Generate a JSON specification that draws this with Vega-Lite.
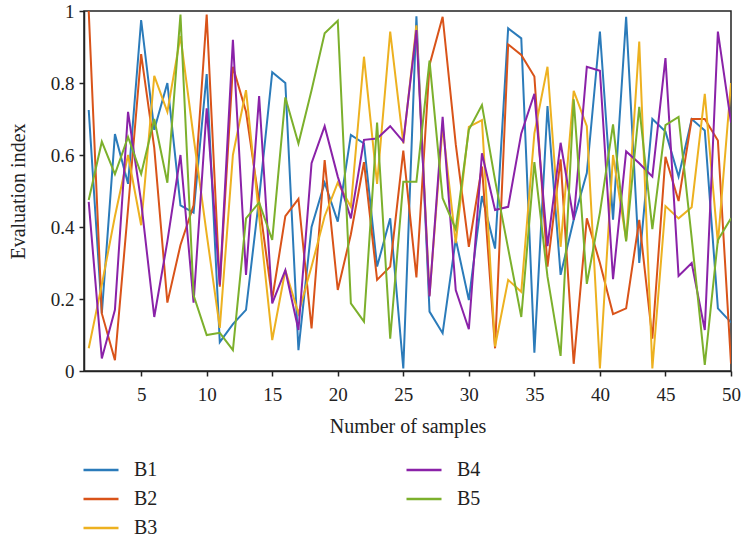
{
"$schema": "https://vega.github.io/schema/vega-lite/v6.json",
"width": 647, "height": 360,
"autosize": "none",
"padding": {"left": 84, "top": 11, "right": 10, "bottom": 168},
"background": "white",
"data": {"values": [
{"s":"B1","n":1,"v":0.725},{"s":"B1","n":2,"v":0.16},{"s":"B1","n":3,"v":0.658},{"s":"B1","n":4,"v":0.52},{"s":"B1","n":5,"v":0.975},{"s":"B1","n":6,"v":0.67},{"s":"B1","n":7,"v":0.80},{"s":"B1","n":8,"v":0.46},{"s":"B1","n":9,"v":0.44},{"s":"B1","n":10,"v":0.825},
{"s":"B1","n":11,"v":0.08},{"s":"B1","n":12,"v":0.13},{"s":"B1","n":13,"v":0.17},{"s":"B1","n":14,"v":0.48},{"s":"B1","n":15,"v":0.83},{"s":"B1","n":16,"v":0.80},{"s":"B1","n":17,"v":0.058},{"s":"B1","n":18,"v":0.40},{"s":"B1","n":19,"v":0.523},{"s":"B1","n":20,"v":0.415},
{"s":"B1","n":21,"v":0.656},{"s":"B1","n":22,"v":0.632},{"s":"B1","n":23,"v":0.29},{"s":"B1","n":24,"v":0.424},{"s":"B1","n":25,"v":0.007},{"s":"B1","n":26,"v":0.985},{"s":"B1","n":27,"v":0.165},{"s":"B1","n":28,"v":0.105},{"s":"B1","n":29,"v":0.366},{"s":"B1","n":30,"v":0.197},
{"s":"B1","n":31,"v":0.486},{"s":"B1","n":32,"v":0.34},{"s":"B1","n":33,"v":0.952},{"s":"B1","n":34,"v":0.924},{"s":"B1","n":35,"v":0.051},{"s":"B1","n":36,"v":0.736},{"s":"B1","n":37,"v":0.267},{"s":"B1","n":38,"v":0.42},{"s":"B1","n":39,"v":0.55},{"s":"B1","n":40,"v":0.943},
{"s":"B1","n":41,"v":0.42},{"s":"B1","n":42,"v":0.984},{"s":"B1","n":43,"v":0.30},{"s":"B1","n":44,"v":0.70},{"s":"B1","n":45,"v":0.665},{"s":"B1","n":46,"v":0.54},{"s":"B1","n":47,"v":0.70},{"s":"B1","n":48,"v":0.668},{"s":"B1","n":49,"v":0.174},{"s":"B1","n":50,"v":0.135},
{"s":"B2","n":1,"v":1.0},{"s":"B2","n":2,"v":0.16},{"s":"B2","n":3,"v":0.03},{"s":"B2","n":4,"v":0.45},{"s":"B2","n":5,"v":0.88},{"s":"B2","n":6,"v":0.62},{"s":"B2","n":7,"v":0.19},{"s":"B2","n":8,"v":0.35},{"s":"B2","n":9,"v":0.46},{"s":"B2","n":10,"v":0.99},
{"s":"B2","n":11,"v":0.234},{"s":"B2","n":12,"v":0.845},{"s":"B2","n":13,"v":0.72},{"s":"B2","n":14,"v":0.47},{"s":"B2","n":15,"v":0.20},{"s":"B2","n":16,"v":0.43},{"s":"B2","n":17,"v":0.478},{"s":"B2","n":18,"v":0.118},{"s":"B2","n":19,"v":0.586},{"s":"B2","n":20,"v":0.225},
{"s":"B2","n":21,"v":0.38},{"s":"B2","n":22,"v":0.58},{"s":"B2","n":23,"v":0.253},{"s":"B2","n":24,"v":0.29},{"s":"B2","n":25,"v":0.612},{"s":"B2","n":26,"v":0.26},{"s":"B2","n":27,"v":0.85},{"s":"B2","n":28,"v":0.984},{"s":"B2","n":29,"v":0.63},{"s":"B2","n":30,"v":0.345},
{"s":"B2","n":31,"v":0.568},{"s":"B2","n":32,"v":0.063},{"s":"B2","n":33,"v":0.907},{"s":"B2","n":34,"v":0.878},{"s":"B2","n":35,"v":0.818},{"s":"B2","n":36,"v":0.29},{"s":"B2","n":37,"v":0.588},{"s":"B2","n":38,"v":0.02},{"s":"B2","n":39,"v":0.424},{"s":"B2","n":40,"v":0.30},
{"s":"B2","n":41,"v":0.158},{"s":"B2","n":42,"v":0.174},{"s":"B2","n":43,"v":0.42},{"s":"B2","n":44,"v":0.09},{"s":"B2","n":45,"v":0.595},{"s":"B2","n":46,"v":0.472},{"s":"B2","n":47,"v":0.70},{"s":"B2","n":48,"v":0.70},{"s":"B2","n":49,"v":0.64},{"s":"B2","n":50,"v":0.02},
{"s":"B3","n":1,"v":0.063},{"s":"B3","n":2,"v":0.24},{"s":"B3","n":3,"v":0.43},{"s":"B3","n":4,"v":0.6},{"s":"B3","n":5,"v":0.405},{"s":"B3","n":6,"v":0.82},{"s":"B3","n":7,"v":0.72},{"s":"B3","n":8,"v":0.93},{"s":"B3","n":9,"v":0.65},{"s":"B3","n":10,"v":0.38},
{"s":"B3","n":11,"v":0.12},{"s":"B3","n":12,"v":0.60},{"s":"B3","n":13,"v":0.78},{"s":"B3","n":14,"v":0.43},{"s":"B3","n":15,"v":0.086},{"s":"B3","n":16,"v":0.28},{"s":"B3","n":17,"v":0.16},{"s":"B3","n":18,"v":0.29},{"s":"B3","n":19,"v":0.43},{"s":"B3","n":20,"v":0.523},
{"s":"B3","n":21,"v":0.456},{"s":"B3","n":22,"v":0.873},{"s":"B3","n":23,"v":0.52},{"s":"B3","n":24,"v":0.943},{"s":"B3","n":25,"v":0.632},{"s":"B3","n":26,"v":0.96},{"s":"B3","n":27,"v":0.21},{"s":"B3","n":28,"v":0.68},{"s":"B3","n":29,"v":0.355},{"s":"B3","n":30,"v":0.678},
{"s":"B3","n":31,"v":0.697},{"s":"B3","n":32,"v":0.068},{"s":"B3","n":33,"v":0.253},{"s":"B3","n":34,"v":0.22},{"s":"B3","n":35,"v":0.66},{"s":"B3","n":36,"v":0.845},{"s":"B3","n":37,"v":0.345},{"s":"B3","n":38,"v":0.778},{"s":"B3","n":39,"v":0.68},{"s":"B3","n":40,"v":0.007},
{"s":"B3","n":41,"v":0.60},{"s":"B3","n":42,"v":0.364},{"s":"B3","n":43,"v":0.915},{"s":"B3","n":44,"v":0.007},{"s":"B3","n":45,"v":0.458},{"s":"B3","n":46,"v":0.424},{"s":"B3","n":47,"v":0.455},{"s":"B3","n":48,"v":0.77},{"s":"B3","n":49,"v":0.355},{"s":"B3","n":50,"v":0.8},
{"s":"B4","n":1,"v":0.47},{"s":"B4","n":2,"v":0.035},{"s":"B4","n":3,"v":0.17},{"s":"B4","n":4,"v":0.72},{"s":"B4","n":5,"v":0.47},{"s":"B4","n":6,"v":0.15},{"s":"B4","n":7,"v":0.36},{"s":"B4","n":8,"v":0.60},{"s":"B4","n":9,"v":0.19},{"s":"B4","n":10,"v":0.73},
{"s":"B4","n":11,"v":0.24},{"s":"B4","n":12,"v":0.92},{"s":"B4","n":13,"v":0.267},{"s":"B4","n":14,"v":0.764},{"s":"B4","n":15,"v":0.188},{"s":"B4","n":16,"v":0.28},{"s":"B4","n":17,"v":0.114},{"s":"B4","n":18,"v":0.577},{"s":"B4","n":19,"v":0.68},{"s":"B4","n":20,"v":0.54},
{"s":"B4","n":21,"v":0.424},{"s":"B4","n":22,"v":0.642},{"s":"B4","n":23,"v":0.646},{"s":"B4","n":24,"v":0.68},{"s":"B4","n":25,"v":0.637},{"s":"B4","n":26,"v":0.947},{"s":"B4","n":27,"v":0.207},{"s":"B4","n":28,"v":0.706},{"s":"B4","n":29,"v":0.225},{"s":"B4","n":30,"v":0.116},
{"s":"B4","n":31,"v":0.605},{"s":"B4","n":32,"v":0.447},{"s":"B4","n":33,"v":0.456},{"s":"B4","n":34,"v":0.66},{"s":"B4","n":35,"v":0.77},{"s":"B4","n":36,"v":0.347},{"s":"B4","n":37,"v":0.634},{"s":"B4","n":38,"v":0.42},{"s":"B4","n":39,"v":0.845},{"s":"B4","n":40,"v":0.834},
{"s":"B4","n":41,"v":0.255},{"s":"B4","n":42,"v":0.61},{"s":"B4","n":43,"v":0.577},{"s":"B4","n":44,"v":0.54},{"s":"B4","n":45,"v":0.869},{"s":"B4","n":46,"v":0.264},{"s":"B4","n":47,"v":0.30},{"s":"B4","n":48,"v":0.114},{"s":"B4","n":49,"v":0.943},{"s":"B4","n":50,"v":0.69},
{"s":"B5","n":1,"v":0.475},{"s":"B5","n":2,"v":0.637},{"s":"B5","n":3,"v":0.547},{"s":"B5","n":4,"v":0.65},{"s":"B5","n":5,"v":0.547},{"s":"B5","n":6,"v":0.70},{"s":"B5","n":7,"v":0.523},{"s":"B5","n":8,"v":0.99},{"s":"B5","n":9,"v":0.21},{"s":"B5","n":10,"v":0.10},
{"s":"B5","n":11,"v":0.106},{"s":"B5","n":12,"v":0.058},{"s":"B5","n":13,"v":0.424},{"s":"B5","n":14,"v":0.468},{"s":"B5","n":15,"v":0.364},{"s":"B5","n":16,"v":0.76},{"s":"B5","n":17,"v":0.632},{"s":"B5","n":18,"v":0.78},{"s":"B5","n":19,"v":0.938},{"s":"B5","n":20,"v":0.973},
{"s":"B5","n":21,"v":0.188},{"s":"B5","n":22,"v":0.137},{"s":"B5","n":23,"v":0.69},{"s":"B5","n":24,"v":0.09},{"s":"B5","n":25,"v":0.526},{"s":"B5","n":26,"v":0.526},{"s":"B5","n":27,"v":0.862},{"s":"B5","n":28,"v":0.48},{"s":"B5","n":29,"v":0.394},{"s":"B5","n":30,"v":0.67},
{"s":"B5","n":31,"v":0.739},{"s":"B5","n":32,"v":0.53},{"s":"B5","n":33,"v":0.34},{"s":"B5","n":34,"v":0.15},{"s":"B5","n":35,"v":0.58},{"s":"B5","n":36,"v":0.262},{"s":"B5","n":37,"v":0.042},{"s":"B5","n":38,"v":0.755},{"s":"B5","n":39,"v":0.242},{"s":"B5","n":40,"v":0.44},
{"s":"B5","n":41,"v":0.685},{"s":"B5","n":42,"v":0.36},{"s":"B5","n":43,"v":0.734},{"s":"B5","n":44,"v":0.394},{"s":"B5","n":45,"v":0.683},{"s":"B5","n":46,"v":0.706},{"s":"B5","n":47,"v":0.37},{"s":"B5","n":48,"v":0.017},{"s":"B5","n":49,"v":0.364},{"s":"B5","n":50,"v":0.424}
]},
"mark": {"type": "line", "strokeWidth": 2, "clip": true},
"encoding": {
  "x": {"field": "n", "type": "quantitative",
        "scale": {"domain": [0.64, 50], "nice": false, "zero": false},
        "axis": {"values": [5,10,15,20,25,30,35,40,45,50], "title": "Number of samples",
                 "labelPadding": 9, "titleY": 61, "titleBaseline": "alphabetic", "labelFlush": false}},
  "y": {"field": "v", "type": "quantitative",
        "scale": {"domain": [0, 1], "nice": false},
        "axis": {"values": [0,0.2,0.4,0.6,0.8,1], "format": ".1~f", "title": "Evaluation index",
                 "labelPadding": 5, "titleX": -60, "titleY": 180, "titleBaseline": "alphabetic", "titleAngle": -90, "labelFlush": false}},
  "color": {"field": "s", "type": "nominal",
            "scale": {"domain": ["B1","B2","B3","B4","B5"], "range": ["#2b7bba","#d95319","#edb120","#8a22a8","#7cb02c"]},
            "legend": {"title": null, "orient": "none", "legendX": -2, "legendY": 440, "columns": 2,
                       "symbolType": "stroke", "symbolSize": 1225, "symbolStrokeWidth": 2.5,
                       "labelFontSize": 20, "labelOffset": 14, "columnPadding": 243, "rowPadding": -6.5,
                       "padding": 0, "labelColor": "#222", "labelFont": "Liberation Serif"}}
},
"config": {
  "font": "Liberation Serif",
  "view": {"stroke": "#222", "strokeWidth": 1.5},
  "axis": {"grid": false, "domainColor": "#222", "tickColor": "#222", "labelColor": "#222", "titleColor": "#222",
           "labelFontSize": 19, "titleFontSize": 20, "titleFontWeight": "normal", "domainWidth": 1.5, "tickWidth": 1.5, "tickSize": 5,
           "labelFont": "Liberation Serif", "titleFont": "Liberation Serif"}
}
}
